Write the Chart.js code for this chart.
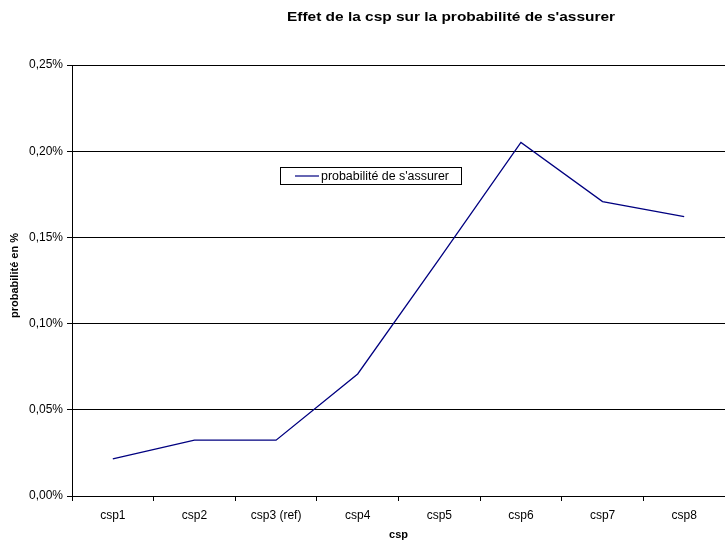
<!DOCTYPE html>
<html>
<head>
<meta charset="utf-8">
<script src="https://cdn.jsdelivr.net/npm/chart.js@4"></script>
<style>
  html, body { margin: 0; padding: 0; background: #fff; }
  #wrap { width: 725px; height: 546px; }
</style>
</head>
<body>
<div id="wrap"><canvas id="c" width="725" height="546"></canvas></div>
<script>
// Socio-professional categories (csp3 is the reference category)
const categories = ['csp1', 'csp2', 'csp3 (ref)', 'csp4', 'csp5', 'csp6', 'csp7', 'csp8'];
// Probability of taking out insurance, in percent
const probabilite = [0.0215, 0.0324, 0.0324, 0.0708, 0.1376, 0.2051, 0.1708, 0.1620];
const yTickLabels = ['0,00%', '0,05%', '0,10%', '0,15%', '0,20%', '0,25%'];

const chartTitle = "Effet de la csp sur la probabilité de s'assurer";
const yTitle = 'probabilité en %';
const xTitle = 'csp';
const seriesLabel = "probabilité de s'assurer";
const lineColor = '#000080';
const FONT = '"Liberation Sans", Arial, sans-serif';

// Draws text stretched horizontally to a given width, starting at x
function fillTextWidth(ctx, text, x, y, width) {
  const w = ctx.measureText(text).width;
  ctx.save();
  ctx.translate(x, y);
  ctx.scale(width / w, 1);
  ctx.fillText(text, 0, 0);
  ctx.restore();
}

// Draws the title, axis titles and the boxed legend inside the plot
const decorations = {
  id: 'decorations',
  afterDraw(chart) {
    const ctx = chart.ctx;
    const area = chart.chartArea;
    ctx.save();
    ctx.fillStyle = '#000';
    ctx.textBaseline = 'alphabetic';
    ctx.textAlign = 'left';
    ctx.font = 'bold 12px ' + FONT;
    fillTextWidth(ctx, chartTitle, 287, 21, 328);

    ctx.textAlign = 'center';
    ctx.textBaseline = 'middle';
    ctx.font = 'bold 11px ' + FONT;
    ctx.fillText(xTitle, (area.left + area.right) / 2, 535);

    ctx.save();
    ctx.translate(15, (area.top + area.bottom) / 2 - 5);
    ctx.rotate(-Math.PI / 2);
    ctx.fillText(yTitle, 0, 0);
    ctx.restore();

    // legend box
    const bx = 280.5, by = 167.5, bw = 181, bh = 17;
    ctx.fillStyle = '#fff';
    ctx.fillRect(bx, by, bw, bh);
    ctx.strokeStyle = '#000';
    ctx.lineWidth = 1;
    ctx.strokeRect(bx, by, bw, bh);
    ctx.strokeStyle = lineColor;
    ctx.lineWidth = 1.2;
    ctx.beginPath();
    ctx.moveTo(295, by + bh / 2);
    ctx.lineTo(319, by + bh / 2);
    ctx.stroke();
    ctx.fillStyle = '#000';
    ctx.textAlign = 'left';
    ctx.font = '12px ' + FONT;
    fillTextWidth(ctx, seriesLabel, 321, by + bh / 2 + 0.5, 128);
    ctx.restore();
  }
};

new Chart(document.getElementById('c'), {
  type: 'line',
  data: {
    labels: categories,
    datasets: [{
      label: seriesLabel,
      data: probabilite,
      borderColor: lineColor,
      borderWidth: 1.3,
      pointRadius: 0,
      tension: 0,
      fill: false
    }]
  },
  options: {
    responsive: false,
    animation: false,
    devicePixelRatio: 1,
    layout: { padding: { top: 65, right: 0, bottom: 0, left: 0 } },
    plugins: {
      legend: { display: false },
      title: { display: false },
      tooltip: { enabled: false }
    },
    scales: {
      x: {
        offset: true,
        grid: {
          offset: true,
          drawOnChartArea: false,
          drawTicks: true,
          tickLength: 5,
          color: '#000'
        },
        border: { color: '#000', width: 1 },
        ticks: {
          color: '#000',
          font: { family: FONT, size: 12 },
          padding: 7,
          maxRotation: 0,
          autoSkip: false
        },
        afterFit(s) { s.height = 50; }
      },
      y: {
        min: 0,
        max: 0.25,
        ticks: {
          stepSize: 0.05,
          color: '#000',
          font: { family: FONT, size: 12 },
          padding: 4,
          callback: (v, i) => yTickLabels[i]
        },
        grid: {
          color: '#000',
          lineWidth: 1,
          tickLength: 5,
          drawTicks: true
        },
        border: { color: '#000', width: 1 },
        afterFit(s) { s.width = 72; }
      }
    }
  },
  plugins: [decorations]
});
</script>
</body>
</html>
